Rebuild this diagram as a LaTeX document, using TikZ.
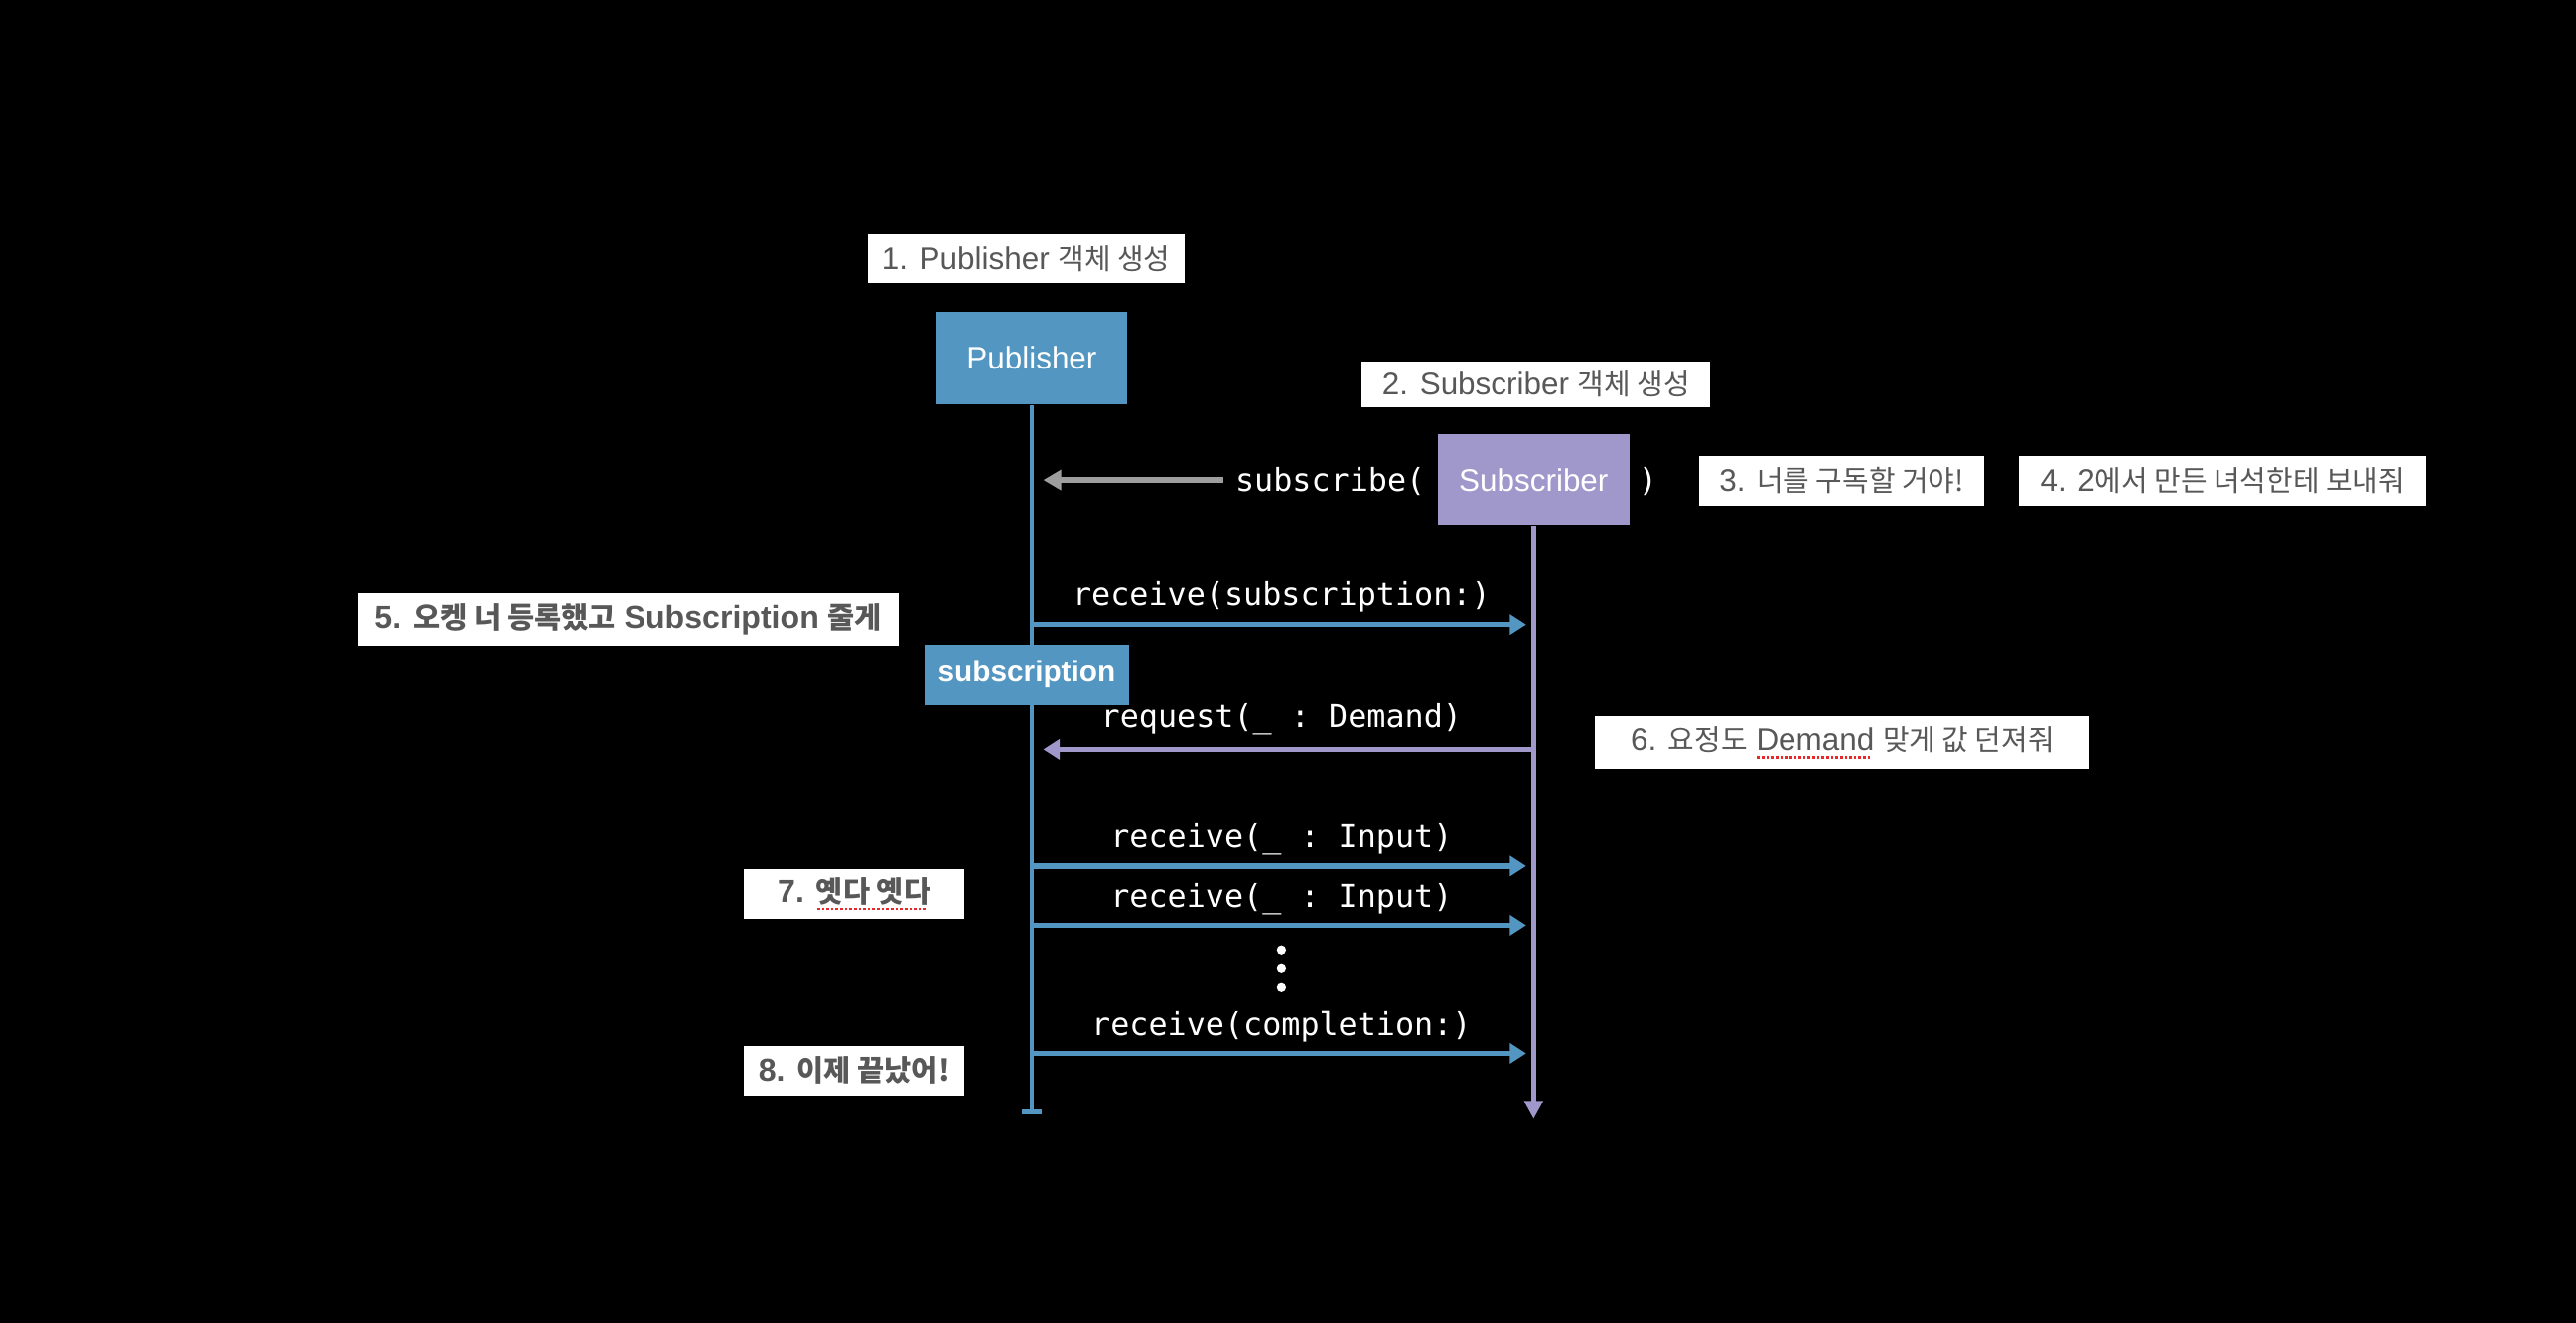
\documentclass[tikz,border=0pt]{standalone}
\usepackage{fontspec}
\setmainfont{Liberation Sans}
\setmonofont{DejaVu Sans Mono}
\newfontfamily\kr[Scale=0.92]{Noto Sans CJK KR}
\usetikzlibrary{arrows.meta}
\definecolor{pubblue}{RGB}{82,150,193}
\definecolor{subpurple}{RGB}{160,151,203}
\definecolor{labelgray}{RGB}{88,88,88}
\definecolor{arrowgray}{RGB}{158,158,158}
\definecolor{spellred}{RGB}{232,40,40}
\newcommand\spellmark[1]{\setbox0\hbox{#1}\rlap{\raisebox{-2.4pt}{\textcolor{spellred}{\leaders\hbox to 1.4pt{\hss\rule{0.8pt}{0.8pt}\hss}\hskip\wd0}}}\box0\relax}
\begin{document}
\begin{tikzpicture}[x=0.5pt,y=-0.5pt,
  note/.style={fill=white, text=labelgray, font=\fontsize{9.5}{11}\selectfont, minimum height=15pt, inner sep=0pt},
  notebold/.style={note, font=\fontsize{9.7}{11}\selectfont\bfseries},
  actor/.style={text=white, inner sep=0pt, minimum height=28pt, font=\fontsize{9.5}{11}\selectfont},
  call/.style={text=white, inner sep=0pt, font=\ttfamily\fontsize{9.6}{11}\selectfont},
  publife/.style={draw=pubblue, line width=1.4pt, -{Bar[width=6pt]}},
  sublife/.style={draw=subpurple, line width=1.4pt, -{Triangle[length=5.5pt,width=5.5pt]}},
  msgblue/.style={draw=pubblue, line width=1.6pt, -{Triangle[length=5pt,width=6pt]}},
  msgpurple/.style={draw=subpurple, line width=1.6pt, -{Triangle[length=5pt,width=6pt]}},
  msggray/.style={draw=arrowgray, line width=2pt, -{Triangle[length=5.5pt,width=6pt]}},
  dot/.style={circle, fill=white, inner sep=0pt, minimum size=2.8pt}]
\fill[black] (0,0) rectangle (1568,805);
\useasboundingbox (0,0) rectangle (1568,805);

% labels
\node[note, minimum width=96.5pt] (n1) at (624.5,157.5) {1. Publisher {\kr 객체 생성}};
\node[note, minimum width=106pt, minimum height=14pt] (n2) at (935,234) {2. Subscriber {\kr 객체 생성}};
\node[note, minimum width=87pt] (n3) at (1121,292.5) {3. {\kr 너를 구독할 거야!}};
\node[note, minimum width=124pt] (n4) at (1353,292.5) {4. 2{\kr 에서 만든 녀석한테 보내줘}};
\node[notebold, minimum width=164.5pt, minimum height=16pt] (n5) at (382.5,377) {5. {\kr 오켕 너 등록했고} Subscription {\kr 줄게}};
\node[note, minimum width=150.5pt, minimum height=16pt] (n6) at (1121.5,452) {6. {\kr 요정도} \spellmark{Demand} {\kr 맞게 값 던져줘}};
\node[notebold, minimum width=67pt] (n7) at (520,544) {7. \spellmark{\kr 옛다 옛다}};
\node[notebold, minimum width=67pt] (n8) at (520,651.5) {8. {\kr 이제 끝났어!}};

% actors
\node[actor, fill=pubblue, minimum width=58pt] (pub) at (628,218) {Publisher};
\node[actor, fill=subpurple, minimum width=58.5pt] (sub) at (933.5,292) {Subscriber};

% lifelines
\coordinate (pubend) at (628,678);
\coordinate (subend) at (933.5,681);
\draw[publife] (pub.south) -- (pubend);
\draw[sublife] (sub.south) -- (subend);

% subscribe call
\node[call, anchor=east] (subcall) at (868,293) {subscribe(};
\node[call] (closep) at (1003,293) {)};
\coordinate (subtip) at (635,292);
\draw[msggray] ([xshift=-3.5pt]subcall.west |- subtip) -- (subtip);

% messages
\coordinate (m1a) at (628,380); \coordinate (m1b) at (929,380);
\coordinate (m2a) at (933.5,456); \coordinate (m2b) at (635,456);
\coordinate (m3a) at (628,527); \coordinate (m3b) at (929,527);
\coordinate (m4a) at (628,563); \coordinate (m4b) at (929,563);
\coordinate (m5a) at (628,641); \coordinate (m5b) at (929,641);
\draw[msgblue] (m1a) -- (m1b);
\draw[msgpurple] (m2a) -- (m2b);
\draw[msgblue] (m3a) -- (m3b);
\draw[msgblue] (m4a) -- (m4b);
\draw[msgblue] (m5a) -- (m5b);
\node[call] (t1) at (780,363) {receive(subscription:)};
\node[call] (t2) at (780,438) {request(\_ : Demand)};
\node[call] (t3) at (780,511) {receive(\_ : Input)};
\node[call] (t4) at (780,547) {receive(\_ : Input)};
\node[call] (t5) at (780,625) {receive(completion:)};

% subscription box
\node[actor, fill=pubblue, minimum width=62pt, minimum height=18.5pt, font=\fontsize{9}{11}\selectfont\bfseries] (subn) at (625,410.5) {subscription};

% dots
\node[dot] (d1) at (780,578) {};
\node[dot] (d2) at (780,589.5) {};
\node[dot] (d3) at (780,601) {};
\end{tikzpicture}
\end{document}
